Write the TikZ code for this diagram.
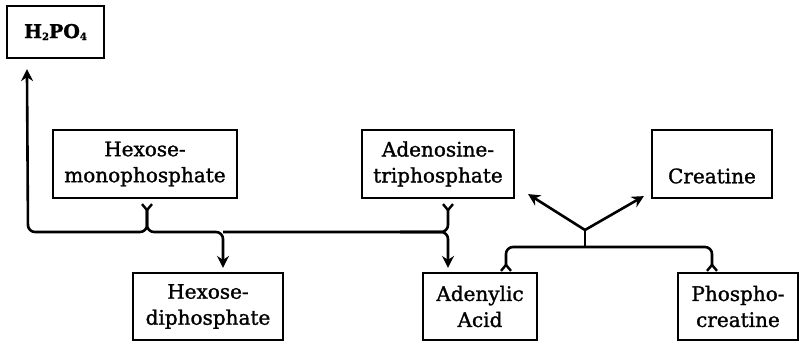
\documentclass[tikz,border=0pt]{standalone}
\usepackage{fontspec}
\setmainfont{DejaVu Serif}[FakeBold=1.3]
\usetikzlibrary{arrows.meta,calc}
\begin{document}
\begin{tikzpicture}[x=1pt,y=-1pt,
  box/.style={draw, line width=2.2pt, align=center, font=\fontsize{20}{26}\selectfont, inner sep=0pt},
  lbl/.style={font=\fontsize{20}{26}\selectfont, inner sep=0pt},
  conn/.style={line width=2.6pt, rounded corners=7pt},
  arr/.style={conn, -{Stealth[length=12pt,width=12pt,inset=4pt]}},
  forkup/.pic={\draw[line width=2.4pt] (-5,-6) -- (0,0) -- (5,-6);},
  forkdown/.pic={\draw[line width=2.4pt] (-5,6) -- (0,0) -- (5,6);}]
\useasboundingbox (0,0) rectangle (801,342);

% boxes
\node[box, minimum width=97pt, minimum height=52pt, font=\fontsize{19}{24}\bfseries] (h2po4) at (55.5,32)
  {H\raisebox{-2pt}{\fontsize{10}{10}\selectfont 2}PO\raisebox{-2pt}{\fontsize{10}{10}\selectfont 4}};
\node[box, minimum width=184pt, minimum height=68pt] (hmp) at (145,164) {Hexose-\\monophosphate};
\node[box, minimum width=152pt, minimum height=68pt] (atp) at (438,164) {Adenosine-\\triphosphate};
\node[box, minimum width=120pt, minimum height=68pt] (creat) at (712,164) {};
\node[lbl] (creattext) at (712,176) {Creatine};
\node[box, minimum width=150pt, minimum height=67pt] (hdp) at (208,306.5) {Hexose-\\diphosphate};
\node[box, minimum width=114pt, minimum height=67pt] (aa) at (480,306.5) {Adenylic\\Acid};
\node[box, minimum width=120pt, minimum height=67pt] (pc) at (738,306.5) {Phospho-\\creatine};

% junction coordinates
\coordinate (yh) at ($(hmp.south)+(2,11)$);
\coordinate (ya) at ($(atp.south)+(10,11)$);
\coordinate (ld) at (28,232);
\coordinate (m1) at (223,232);
\coordinate (m2) at (400,232);
\coordinate (v) at (585,230);
\coordinate (vb) at (585,247);
\coordinate (fa) at ($(aa.north)+(26,-7)$);
\coordinate (fp) at ($(pc.north)+(-26,-7)$);

% forks
\pic at (yh) {forkup};
\pic at (ya) {forkup};
\pic at (fa) {forkdown};
\pic at (fp) {forkdown};

% left network
\draw[arr, shorten >=10pt] (yh) |- (ld) -- ($(h2po4.south west)+(21,0)$);
\draw[arr, shorten >=4pt] (yh) |- (m1) -- ($(hdp.north)+(15,0)$);
\draw[conn] (ya) |- (m2);
\draw[arr, shorten >=4pt] (m1) -| ($(aa.north)+(-32,0)$);

% right network
\draw[conn] (fa) |- (vb) -| (fp);
\draw[line width=2.6pt] (vb) -- (v);
\draw[arr] (v) -- ($(atp.south east)+(13,-5)$);
\draw[arr] (v) -- ($(creat.south west)+(-7,-3)$);
\end{tikzpicture}
\end{document}
